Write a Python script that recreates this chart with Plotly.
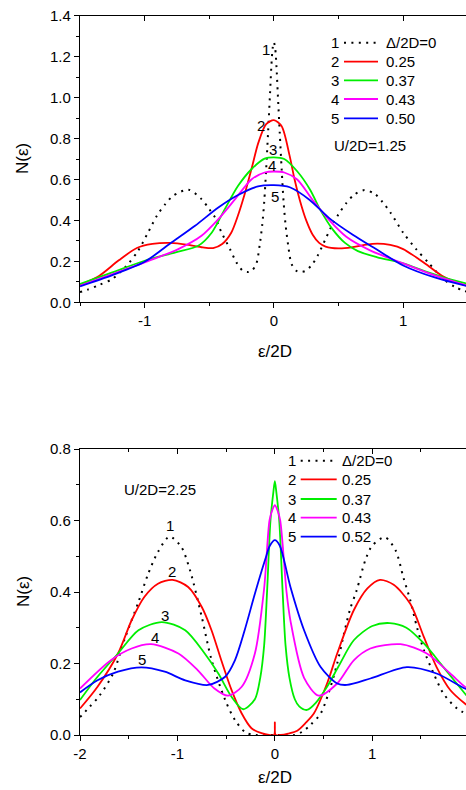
import plotly.graph_objects as go

FONT = "Liberation Sans, Arial, sans-serif"

# ---------------- data: top panel (U/2D = 1.25) ----------------
top_x1 = [-1.5, -1.44, -1.35, -1.25, -1.14, -1.05, -0.98, -0.905, -0.84, -0.78, -0.66, -0.56, -0.5, -0.456,
          -0.405, -0.34, -0.29, -0.24, -0.2, -0.17, -0.135, -0.11, -0.09, -0.075, -0.06, -0.045, -0.03, -0.02,
          -0.01, 0.0, 0.01, 0.02, 0.03, 0.045, 0.06, 0.075, 0.09, 0.11, 0.135, 0.17, 0.2, 0.24, 0.29, 0.34,
          0.4, 0.46, 0.5, 0.56, 0.62, 0.7, 0.78, 0.84, 0.9, 1.0, 1.1, 1.2, 1.3, 1.4, 1.5]
top_y1 = [0.05, 0.062, 0.085, 0.114, 0.179, 0.252, 0.333, 0.423, 0.48, 0.52, 0.55, 0.504, 0.455, 0.415,
          0.341, 0.26, 0.195, 0.154, 0.148, 0.155, 0.19, 0.28, 0.38, 0.49, 0.65, 0.83, 1.02, 1.15,
          1.24, 1.27, 1.24, 1.15, 1.02, 0.83, 0.65, 0.49, 0.38, 0.28, 0.19, 0.155, 0.148, 0.152, 0.18, 0.23,
          0.31, 0.39, 0.43, 0.485, 0.525, 0.548, 0.53, 0.49, 0.44, 0.34, 0.26, 0.19, 0.12, 0.075, 0.05]

top_x2 = [-1.5, -1.35, -1.2, -1.06, -0.94, -0.8, -0.66, -0.55, -0.47, -0.4, -0.33, -0.28, -0.23, -0.17,
          -0.12, -0.06, 0.0, 0.06, 0.12, 0.16, 0.2, 0.25, 0.3, 0.35, 0.4, 0.5, 0.6, 0.7, 0.8, 0.9, 1.0,
          1.1, 1.2, 1.3, 1.4, 1.5]
top_y2 = [0.085, 0.13, 0.205, 0.265, 0.285, 0.29, 0.28, 0.268, 0.265, 0.285, 0.34, 0.42, 0.52, 0.66,
          0.78, 0.87, 0.89, 0.86, 0.72, 0.6, 0.5, 0.4, 0.33, 0.29, 0.272, 0.263, 0.268, 0.28, 0.287, 0.28, 0.26,
          0.22, 0.175, 0.13, 0.1, 0.08]

top_x3 = [-1.5, -1.25, -1.0, -0.76, -0.585, -0.48, -0.38, -0.277, -0.174, -0.072, 0.0, 0.08, 0.18, 0.28,
          0.36, 0.45, 0.55, 0.65, 0.8, 1.0, 1.2, 1.35, 1.5]
top_y3 = [0.089, 0.146, 0.203, 0.244, 0.276, 0.341, 0.455, 0.569, 0.65, 0.702, 0.708, 0.70, 0.64, 0.55,
          0.45, 0.36, 0.29, 0.25, 0.22, 0.19, 0.145, 0.115, 0.09]

top_x4 = [-1.5, -1.25, -1.0, -0.74, -0.56, -0.43, -0.3, -0.174, -0.072, 0.0, 0.08, 0.18, 0.3, 0.43, 0.56,
          0.74, 1.0, 1.25, 1.5]
top_y4 = [0.081, 0.138, 0.195, 0.26, 0.325, 0.406, 0.504, 0.6, 0.634, 0.639, 0.634, 0.6, 0.5, 0.4, 0.32,
          0.255, 0.19, 0.13, 0.08]

top_x5 = [-1.5, -1.25, -1.0, -0.79, -0.61, -0.43, -0.277, -0.123, 0.0, 0.123, 0.277, 0.43, 0.61, 0.79,
          1.0, 1.25, 1.5]
top_y5 = [0.078, 0.133, 0.198, 0.293, 0.374, 0.463, 0.524, 0.566, 0.572, 0.562, 0.5, 0.41, 0.33, 0.26,
          0.18, 0.12, 0.078]

# ---------------- data: bottom panel (U/2D = 2.25) ----------------
bot_x1 = [-2.0, -1.9, -1.8, -1.66, -1.54, -1.4, -1.3, -1.2, -1.08, -0.96, -0.87, -0.75, -0.65, -0.51,
          -0.41, -0.3, -0.2, 0.0, 0.2, 0.28, 0.365, 0.47, 0.55, 0.64, 0.71, 0.77, 0.84, 0.93, 1.0, 1.13,
          1.24, 1.32, 1.39, 1.46, 1.53, 1.63, 1.73, 1.87, 2.0]
bot_y1 = [0.05, 0.079, 0.11, 0.172, 0.27, 0.372, 0.451, 0.512, 0.555, 0.526, 0.46, 0.33, 0.21, 0.098,
          0.042, 0.007, 0.0, 0.0, 0.0, 0.009, 0.028, 0.06, 0.116, 0.2, 0.284, 0.35, 0.405, 0.49, 0.53, 0.553,
          0.516, 0.44, 0.377, 0.30, 0.237, 0.172, 0.116, 0.074, 0.055]

bot_x2 = [-2.0, -1.82, -1.61, -1.47, -1.34, -1.2, -1.05, -0.89, -0.75, -0.65, -0.55, -0.445, -0.34, -0.24,
          -0.137, -0.06, -0.008, 0.0, 0.008, 0.06, 0.137, 0.23, 0.32, 0.4, 0.536, 0.64, 0.81, 0.95, 1.08,
          1.22, 1.39, 1.53, 1.66, 1.8, 1.95, 2.0]
bot_y2 = [0.074, 0.135, 0.228, 0.321, 0.386, 0.423, 0.434, 0.414, 0.358, 0.293, 0.209, 0.126, 0.06, 0.019,
          0.005, 0.0, 0.0, 0.035, 0.0, 0.0, 0.004, 0.012, 0.035, 0.06, 0.144, 0.228, 0.349, 0.41, 0.434,
          0.42, 0.367, 0.274, 0.19, 0.126, 0.088, 0.078]

bot_x3 = [-2.0, -1.82, -1.61, -1.4, -1.16, -0.92, -0.72, -0.58, -0.445, -0.325, -0.205, -0.15, -0.11, -0.08,
          -0.045, -0.015, 0.0, 0.015, 0.045, 0.08, 0.11, 0.15, 0.205, 0.25, 0.33, 0.42, 0.536, 0.65, 0.81,
          1.0, 1.18, 1.35, 1.53, 1.73, 1.95, 2.0]
bot_y3 = [0.098, 0.163, 0.228, 0.293, 0.316, 0.293, 0.228, 0.172, 0.107, 0.072, 0.1, 0.16, 0.25, 0.4,
          0.6, 0.68, 0.71, 0.68, 0.6, 0.4, 0.25, 0.16, 0.1, 0.08, 0.07, 0.09, 0.135, 0.19, 0.265,
          0.305, 0.313, 0.3, 0.256, 0.19, 0.116, 0.1]

bot_x4 = [-2.0, -1.68, -1.47, -1.27, -0.99, -0.79, -0.62, -0.48, -0.34, -0.205, -0.11, -0.055, -0.025, 0.0,
          0.025, 0.055, 0.12, 0.16, 0.3, 0.45, 0.64, 0.81, 0.98, 1.29, 1.56, 1.8, 1.95, 2.0]
bot_y4 = [0.13, 0.21, 0.242, 0.254, 0.228, 0.181, 0.13, 0.11, 0.135, 0.228, 0.41, 0.6, 0.63, 0.643,
          0.63, 0.6, 0.4, 0.32, 0.16, 0.11, 0.144, 0.209, 0.242, 0.254, 0.228, 0.172, 0.135, 0.128]

bot_x5 = [-2.0, -1.82, -1.61, -1.37, -1.13, -0.92, -0.685, -0.51, -0.41, -0.31, -0.205, -0.1, -0.05, 0.0,
          0.05, 0.16, 0.3, 0.47, 0.64, 0.74, 0.98, 1.355, 1.66, 1.95, 2.0]
bot_y5 = [0.119, 0.153, 0.177, 0.189, 0.177, 0.153, 0.14, 0.163, 0.209, 0.293, 0.395, 0.49, 0.53, 0.545,
          0.53, 0.414, 0.293, 0.19, 0.144, 0.14, 0.158, 0.19, 0.172, 0.13, 0.125]

curve_ids = ["1", "2", "3", "4", "5"]
top_names = ["\u0394/2D=0", "0.25", "0.37", "0.43", "0.50"]
bot_names = ["\u0394/2D=0", "0.25", "0.37", "0.43", "0.52"]
top_xticks = [-1, 0, 1]
top_xticktext = ["-1", "0", "1"]
bot_xticks = [-2, -1, 0, 1]
bot_xticktext = ["-2", "-1", "0", "1"]
colors = ["#000000", "#ff0000", "#00ee00", "#ff00ff", "#0000ff"]
DOT = "2px,5.4px"
LW = 1.8

top_series = [(top_x1, top_y1), (top_x2, top_y2), (top_x3, top_y3), (top_x4, top_y4), (top_x5, top_y5)]
bot_series = [(bot_x1, bot_y1), (bot_x2, bot_y2), (bot_x3, bot_y3), (bot_x4, bot_y4), (bot_x5, bot_y5)]

fig = go.Figure()

def add_series(series, xa, ya):
    for i, (xs, ys) in enumerate(series):
        if i == 0:
            line = dict(color="black", width=2, dash=DOT, shape="spline", smoothing=0.8)
        else:
            line = dict(color=colors[i], width=LW, shape="spline", smoothing=0.8)
        fig.add_trace(go.Scatter(x=xs, y=ys, mode="lines", line=line, xaxis=xa, yaxis=ya,
                                 showlegend=False, hoverinfo="skip"))

add_series(top_series, "x", "y")
add_series(bot_series, "x2", "y2")
# dummy traces so the top-side tick axes get drawn
fig.add_trace(go.Scatter(x=[None], y=[None], xaxis="x3", yaxis="y", showlegend=False))
fig.add_trace(go.Scatter(x=[None], y=[None], xaxis="x4", yaxis="y2", showlegend=False))

W, H, L = 466, 790, 80
PW = W - L

def px(xp):
    return (xp - L) / PW

def py(yp):
    return 1 - yp / H

top_dom = [py(302.3), py(15.7)]
bot_dom = [py(735.0), py(449.0)]
top_rng = [-1.5, 1.486]
bot_rng = [-2.0, 1.962]

tickfont = dict(family=FONT, size=15, color="black")
common_x = dict(showline=True, linecolor="black", linewidth=1.3, mirror=True, ticks="outside",
                ticklen=5, tickwidth=1.2, tickcolor="black", tickmode="array", showgrid=False,
                zeroline=False, tickfont=tickfont, automargin=False,
                minor=dict(tickmode="linear", dtick=0.5, tick0=0, ticks="outside", ticklen=3,
                           tickwidth=1.2, tickcolor="black"))
common_y = dict(showline=True, linecolor="black", linewidth=1.3, mirror=False, ticks="outside",
                ticklen=5, tickwidth=1.2, tickcolor="black", dtick=0.2, tick0=0, showgrid=False,
                zeroline=False, tickfont=tickfont, tickformat=".1f", automargin=False,
                minor=dict(dtick=0.1, ticks="outside", ticklen=3, tickwidth=1.2, tickcolor="black"))
top_ticks = dict(side="top", ticks="inside", ticklen=5, tickwidth=1.2, tickcolor="black", dtick=1,
                 tick0=0, showticklabels=False, showgrid=False, zeroline=False, showline=False,
                 automargin=False,
                 minor=dict(dtick=0.5, ticks="inside", ticklen=3, tickwidth=1.2, tickcolor="black"))

fig.update_layout(
    width=W, height=H, autosize=False,
    margin=dict(l=L, r=0, t=0, b=0, pad=0, autoexpand=False),
    paper_bgcolor="white", plot_bgcolor="white",
    font=dict(family=FONT, size=15, color="black"),
    showlegend=False,
    xaxis=dict(common_x, domain=[0, 1], anchor="y", range=top_rng,
               tickvals=top_xticks, ticktext=top_xticktext),
    yaxis=dict(common_y, domain=top_dom, anchor="x", range=[0, 1.4]),
    xaxis2=dict(common_x, domain=[0, 1], anchor="y2", range=bot_rng,
                tickvals=bot_xticks, ticktext=bot_xticktext),
    yaxis2=dict(common_y, domain=bot_dom, anchor="x2", range=[0, 0.8]),
    xaxis3=dict(top_ticks, overlaying="x", anchor="y", range=top_rng),
    xaxis4=dict(top_ticks, overlaying="x2", anchor="y2", range=bot_rng),
)

ann = []
shapes = []
f15 = dict(family=FONT, size=15, color="black")

# axis titles
for yc in (159.0, 592.0):
    ann.append(dict(text="N(\u03b5)", x=px(23), y=py(yc), xref="paper", yref="paper", showarrow=False,
                    textangle=-90, font=dict(family=FONT, size=17, color="black"),
                    xanchor="center", yanchor="middle"))
for yc in (352.0, 777.0):
    ann.append(dict(text="\u03b5/2D", x=px(275), y=py(yc), xref="paper", yref="paper", showarrow=False,
                    font=dict(family=FONT, size=17, color="black"), xanchor="center", yanchor="middle"))
# partially visible "2" tick label at the right edge of the lower panel
ann.append(dict(text="2", x=px(469.7), y=py(752), xref="paper", yref="paper", showarrow=False,
                font=f15, xanchor="center", yanchor="middle"))

# legends (drawn manually: "n ---- value")
def legend(rows, xnum, xl0, xl1, xtxt, names):
    for i, yr in enumerate(rows):
        ann.append(dict(text=curve_ids[i], x=px(xnum), y=py(yr), xref="paper", yref="paper",
                        showarrow=False, font=f15, xanchor="center", yanchor="middle"))
        ann.append(dict(text=names[i], x=px(xtxt), y=py(yr), xref="paper", yref="paper",
                        showarrow=False, font=f15, xanchor="left", yanchor="middle"))
        if i == 0:
            ln = dict(color="black", width=2, dash=DOT)
        else:
            ln = dict(color=colors[i], width=LW)
        shapes.append(dict(type="line", xref="paper", yref="paper", x0=px(xl0), x1=px(xl1),
                           y0=py(yr), y1=py(yr), line=ln))

legend([42.7, 61.7, 80.3, 99.0, 118.3], 335, 344, 378, 384, top_names)
legend([460.7, 479.3, 499.0, 517.7, 536.7], 291.7, 300.7, 336.7, 340, bot_names)

ann.append(dict(text="U/2D=1.25", x=px(331.5), y=py(145.7), xref="paper", yref="paper", showarrow=False,
                font=f15, xanchor="left", yanchor="middle"))
ann.append(dict(text="U/2D=2.25", x=px(121.5), y=py(489.0), xref="paper", yref="paper", showarrow=False,
                font=f15, xanchor="left", yanchor="middle"))

# curve number labels
top_lab = [(-0.064, 1.237), (-0.103, 0.864), (-0.01, 0.745), (-0.013, 0.666), (0.006, 0.518)]
bot_lab = [(-1.08, 0.585), (-1.06, 0.457), (-1.13, 0.334), (-1.23, 0.273), (-1.36, 0.21)]
for i, (xx, yy) in enumerate(top_lab):
    ann.append(dict(text=curve_ids[i], x=xx, y=yy, xref="x", yref="y", showarrow=False, font=f15,
                    xanchor="center", yanchor="middle", borderpad=0))
for i, (xx, yy) in enumerate(bot_lab):
    ann.append(dict(text=curve_ids[i], x=xx, y=yy, xref="x2", yref="y2", showarrow=False, font=f15,
                    xanchor="center", yanchor="middle", borderpad=0))

fig.update_layout(annotations=ann, shapes=shapes)

POST = (
    "document.body.style.margin='0';"
    "document.body.style.overflow='hidden';"
)
fig.write_html("out.html", config={"displayModeBar": False}, post_script=POST)
